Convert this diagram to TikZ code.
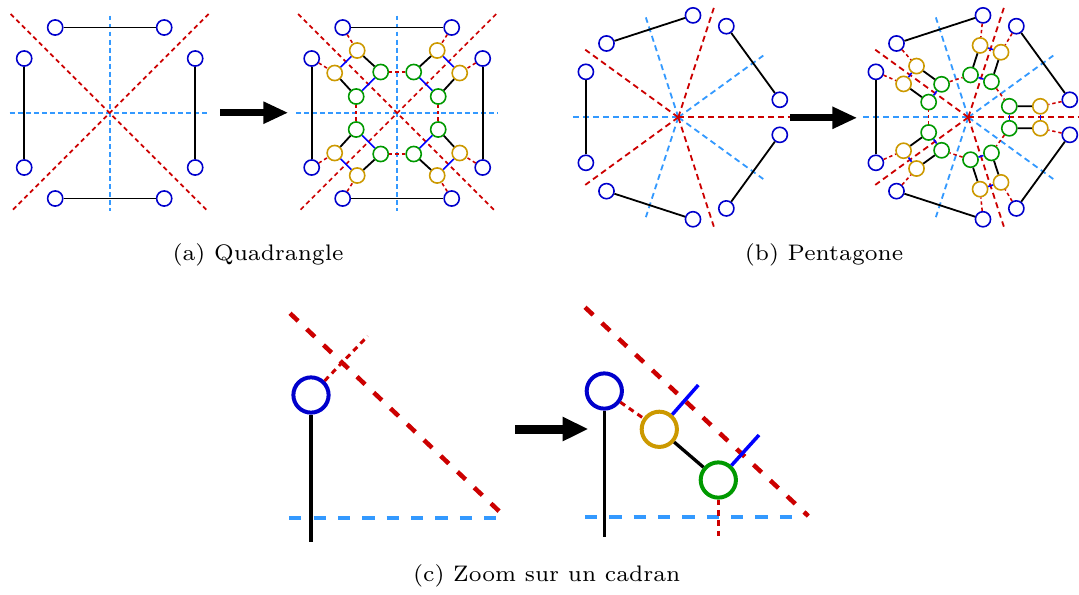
\documentclass[tikz,border=0pt]{standalone}
\usetikzlibrary{arrows.meta}
\definecolor{cblue}{RGB}{0,0,204}
\definecolor{cgold}{RGB}{204,153,0}
\definecolor{cgreen}{RGB}{0,153,0}
\definecolor{cred}{RGB}{204,0,0}
\definecolor{clight}{RGB}{51,153,255}
\definecolor{cpure}{RGB}{0,0,255}
\begin{document}
\begin{tikzpicture}[x=0.386pt,y=-0.386pt,
  dot/.style={circle,fill=white,inner sep=0pt,minimum size=5.85pt,line width=0.62pt},
  bdot/.style={dot,draw=cblue},
  gdot/.style={dot,draw=cgold},
  ndot/.style={dot,draw=cgreen},
  edge/.style={line width=0.7pt,black},
  bedge/.style={line width=0.62pt,cpure},
  raxis/.style={line width=0.66pt,cred,dash pattern=on 1.74pt off 1.35pt},
  baxis/.style={line width=0.7pt,clight,dash pattern=on 1.9pt off 1.2pt},
  raxisb/.style={line width=0.7pt,cred,dash pattern=on 2.3pt off 1.54pt},
  baxisb/.style={line width=0.7pt,clight,dash pattern=on 2.3pt off 1.54pt},
  rlink/.style={line width=0.6pt,cred,dash pattern=on 1.3pt off 1.1pt},
  bigarrow/.style={line width=2.7pt,-{Triangle[length=9.65pt,width=8pt]}},
  cdot/.style={circle,fill=white,inner sep=0pt,minimum size=13.6pt,line width=1.54pt},
  cedge/.style={line width=1.27pt,black},
  cbedge/.style={line width=1.35pt,cpure},
  credlong/.style={line width=1.74pt,cred,dash pattern=on 4.3pt off 4.6pt},
  cblueaxis/.style={line width=1.54pt,clight,dash pattern=on 4.7pt off 4.7pt},
  credshort/.style={line width=1.16pt,cred,dash pattern=on 2.2pt off 1.8pt},
  caption/.style={inner sep=0pt,scale=1.24,font=\fontsize{7}{8}\selectfont}
]
\path[use as bounding box] (0,0) rectangle (1079,594);

% ---------------- (a) left ----------------
\draw[baxis] (109.7,15.5) -- (109.7,210.5);
\draw[baxis] (9.7,113) -- (209.7,113);
\draw[raxis] (10.7,14) -- (208.7,212);
\draw[raxis] (208.7,14) -- (10.7,212);
\foreach \q/\sx/\sy in {tl/-1/-1,tr/1/-1,bl/-1/1,br/1/1} {
  \node[bdot] (Lba\q) at ({109.7+\sx*54.5},{113+\sy*85.5}) {};
  \node[bdot] (Lbb\q) at ({109.7+\sx*85.5},{113+\sy*54.5}) {};
}
\draw[edge] (Lbatl) -- (Lbatr);
\draw[edge] (Lbabl) -- (Lbabr);
\draw[edge] (Lbbtl) -- (Lbbbl);
\draw[edge] (Lbbtr) -- (Lbbbr);

% arrow (a)
\coordinate (arAs) at (220,112.7);
\coordinate (arAe) at (288.3,112.7);
\draw[bigarrow] (arAs) -- (arAe);

% ---------------- (a) right ----------------
\draw[baxis] (397.2,15.5) -- (397.2,210.5);
\draw[baxis] (296.2,113) -- (498.2,113);
\draw[raxis] (298.2,14) -- (496.2,212);
\draw[raxis] (496.2,14) -- (298.2,212);
\foreach \q/\sx/\sy in {tl/-1/-1,tr/1/-1,bl/-1/1,br/1/1} {
  \node[bdot] (Rba\q) at ({397.2+\sx*54.5},{113+\sy*85.5}) {};
  \node[bdot] (Rbb\q) at ({397.2+\sx*85.5},{113+\sy*54.5}) {};
  \node[gdot] (Rga\q) at ({397.2+\sx*40},{113+\sy*62.5}) {};
  \node[gdot] (Rgb\q) at ({397.2+\sx*62.5},{113+\sy*40}) {};
  \node[ndot] (Rna\q) at ({397.2+\sx*16.5},{113+\sy*41}) {};
  \node[ndot] (Rnb\q) at ({397.2+\sx*41},{113+\sy*16.5}) {};
}
\foreach \q in {tl,tr,bl,br} {
  \draw[rlink] (Rba\q) -- (Rga\q);
  \draw[rlink] (Rbb\q) -- (Rgb\q);
  \draw[bedge] (Rga\q) -- (Rgb\q);
  \draw[edge] (Rga\q) -- (Rna\q);
  \draw[edge] (Rgb\q) -- (Rnb\q);
  \draw[bedge] (Rna\q) -- (Rnb\q);
}
\draw[rlink] (Rnatl) -- (Rnatr);
\draw[rlink] (Rnabl) -- (Rnabr);
\draw[rlink] (Rnbtl) -- (Rnbbl);
\draw[rlink] (Rnbtr) -- (Rnbbr);
\draw[edge] (Rbatl) -- (Rbatr);
\draw[edge] (Rbabl) -- (Rbabr);
\draw[edge] (Rbbtl) -- (Rbbbl);
\draw[edge] (Rbbtr) -- (Rbbbr);

% ---------------- (b) left ----------------
\begin{scope}[shift={(678.3,117.3)}]
  \coordinate (PLc) at (0,0);
  \foreach \a in {36,108,180,252,324} \draw[baxisb] (PLc) -- (\a:105);
  \foreach \a in {0,72,144,216,288} \draw[raxisb] (PLc) -- (\a:115);
  \foreach \k in {0,...,4} {
    \node[bdot] (PLbp\k) at ({72*\k+9.8}:103) {};
    \node[bdot] (PLbm\k) at ({72*\k-9.8}:103) {};
  }
  \foreach \k in {0,...,4} {
    \pgfmathtruncatemacro\n{mod(\k+1,5)}
    \draw[edge] (PLbp\k) -- (PLbm\n);
  }
\end{scope}

% arrow (b)
\coordinate (arBs) at (790,117.8);
\coordinate (arBe) at (857.3,117.8);
\draw[bigarrow] (arBs) -- (arBe);

% ---------------- (b) right ----------------
\begin{scope}[shift={(968.3,117.3)}]
  \coordinate (PRc) at (0,0);
  \foreach \a in {36,108,180,252,324} \draw[baxisb] (PRc) -- (\a:105);
  \foreach \a in {0,72,144,216,288} \draw[raxisb] (PRc) -- (\a:115);
  \foreach \k in {0,...,4} {
    \node[bdot] (PRbp\k) at ({72*\k+9.8}:103) {};
    \node[bdot] (PRbm\k) at ({72*\k-9.8}:103) {};
    \node[gdot] (PRgp\k) at ({72*\k+8.69}:72.84) {};
    \node[gdot] (PRgm\k) at ({72*\k-8.69}:72.84) {};
    \node[ndot] (PRnp\k) at ({72*\k+15.02}:42.45) {};
    \node[ndot] (PRnm\k) at ({72*\k-15.02}:42.45) {};
  }
  \foreach \k in {0,...,4} {
    \pgfmathtruncatemacro\n{mod(\k+1,5)}
    \draw[rlink] (PRbp\k) -- (PRgp\k);
    \draw[rlink] (PRbm\k) -- (PRgm\k);
    \draw[bedge] (PRgp\k) -- (PRgm\k);
    \draw[edge] (PRgp\k) -- (PRnp\k);
    \draw[edge] (PRgm\k) -- (PRnm\k);
    \draw[bedge] (PRnp\k) -- (PRnm\k);
    \draw[rlink] (PRnp\k) -- (PRnm\n);
    \draw[edge] (PRbp\k) -- (PRbm\n);
  }
\end{scope}

% ---------------- (c) left ----------------
\coordinate (cLh1) at (289.3,517.7);
\coordinate (cLh2) at (503.3,517.7);
\coordinate (cLd1) at (290,313.3);
\coordinate (cLd2) at (506,517.7);
\coordinate (cLv) at (311,541.7);
\coordinate (cLs) at (367.7,336);
\draw[cblueaxis] (cLh1) -- (cLh2);
\draw[credlong] (cLd1) -- (cLd2);
\node[cdot,draw=cblue] (cL) at (311,395) {};
\draw[cedge] (cL) -- (cLv);
\draw[credshort] (cL) -- (cLs);

% arrow (c)
\coordinate (arCs) at (515,429);
\coordinate (arCe) at (588.3,429);
\draw[bigarrow,line width=3.47pt,-{Triangle[length=9.9pt,width=8.76pt]}] (arCs) -- (arCe);

% ---------------- (c) right ----------------
\coordinate (cRh1) at (585,517.3);
\coordinate (cRh2) at (800,517.3);
\coordinate (cRd1) at (585,307.3);
\coordinate (cRd2) at (808.3,516);
\coordinate (cRv) at (604.3,537.3);
\coordinate (cRgb) at (698.3,385);
\coordinate (cRnb) at (759,435);
\coordinate (cRnv) at (718.3,536.7);
\draw[cblueaxis] (cRh1) -- (cRh2);
\draw[credlong] (cRd1) -- (cRd2);
\node[cdot,draw=cblue] (cR) at (604.3,391) {};
\node[cdot,draw=cgold] (gR) at (659.3,429.3) {};
\node[cdot,draw=cgreen] (nR) at (718.3,480) {};
\draw[cedge] (cR) -- (cRv);
\draw[credshort] (cR) -- (gR);
\draw[cedge] (gR) -- (nR);
\draw[cbedge] (gR) -- (cRgb);
\draw[cbedge] (nR) -- (cRnb);
\draw[credshort] (nR) -- (cRnv);

% ---------------- captions ----------------
\node[caption] (capa) at (258,255) {(a) Quadrangle};
\node[caption] (capb) at (824,255) {(b) Pentagone};
\node[caption] (capc) at (546.7,576) {(c) Zoom sur un cadran};
\end{tikzpicture}
\end{document}
